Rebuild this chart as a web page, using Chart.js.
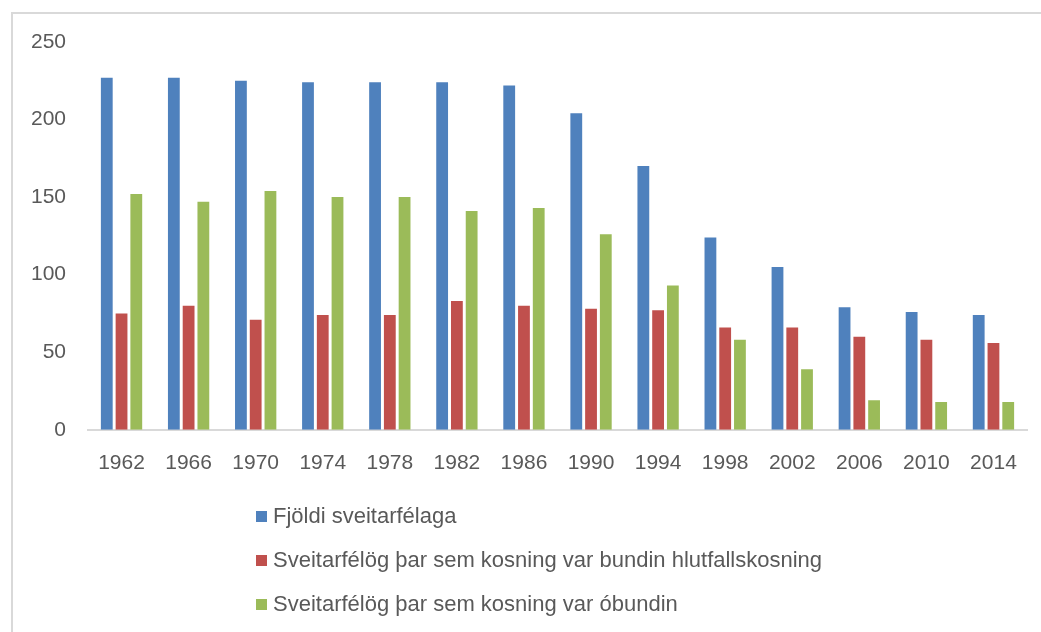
<!DOCTYPE html>
<html>
<head>
<meta charset="utf-8">
<script src="https://cdn.jsdelivr.net/npm/chart.js@4.4.1/dist/chart.umd.min.js"></script>
<style>
    html, body { margin: 0; padding: 0; background: #fff; overflow: hidden; }
    #wrap { position: relative; width: 1041px; height: 632px; }
    #frame {
        position: absolute; left: 11px; top: 12px; width: 1060px; height: 660px;
        border: 2px solid #d9d9d9; box-sizing: border-box;
    }
    #chart { position: absolute; left: 0; top: 0; }
    #legend {
        position: absolute; left: 256px; top: 503px;
        font-family: "Liberation Sans", Arial, sans-serif; font-size: 22px; color: #595959;
    }
    #legend .item { height: 44px; display: flex; align-items: flex-start; line-height: 26px; }
    #legend .box { width: 11px; height: 11px; margin: 8px 6px 0 0; flex: none; }
</style>
</head>
<body>
<div id="wrap">
    <div id="frame"></div>
    <canvas id="chart" width="1041" height="632"></canvas>
    <div id="legend"></div>
</div>
<script>
////////////////////////////////////////////////////////////////////////
// Data
const years = ["1962", "1966", "1970", "1974", "1978", "1982", "1986",
               "1990", "1994", "1998", "2002", "2006", "2010", "2014"]
const municipalities = [227, 227, 225, 224, 224, 224, 222, 204, 170, 124, 105, 79, 76, 74]
const proportional = [75, 80, 71, 74, 74, 83, 80, 78, 77, 66, 66, 60, 58, 56]
const unbound = [152, 147, 154, 150, 150, 141, 143, 126, 93, 58, 39, 19, 18, 18]
const seriesNames = [
    "Fjöldi sveitarfélaga",
    "Sveitarfélög þar sem kosning var bundin hlutfallskosning",
    "Sveitarfélög þar sem kosning var óbundin"
]
const seriesColors = ["#4f81bd", "#c0504d", "#9bbb59"]
const yTicks = [0, 50, 100, 150, 200, 250]

////////////////////////////////////////////////////////////////////////
// Chart
const textColor = "#595959"
const tickFont = { family: "'Liberation Sans', Arial, sans-serif", size: 21 }

function dataset(i, values) {
    return {
        label: seriesNames[i],
        data: values,
        backgroundColor: seriesColors[i],
        borderWidth: 0,
        categoryPercentage: 0.66,
        barPercentage: 0.8
    }
}

const chart = new Chart(document.getElementById("chart"), {
    type: "bar",
    data: {
        labels: years,
        datasets: [
            dataset(0, municipalities),
            dataset(1, proportional),
            dataset(2, unbound)
        ]
    },
    options: {
        responsive: false,
        animation: false,
        layout: {
            padding: { left: 0, right: 14, top: 42, bottom: 135 }
        },
        plugins: {
            legend: { display: false },
            tooltip: { enabled: false }
        },
        scales: {
            x: {
                grid: { display: false, drawTicks: false },
                border: { display: true, color: "#d9d9d9", width: 2 },
                ticks: { color: textColor, font: tickFont, padding: 21, maxRotation: 0 }
            },
            y: {
                min: 0,
                max: 250,
                afterBuildTicks: axis => { axis.ticks = yTicks.map(v => ({ value: v })) },
                afterFit: axis => { axis.width = 88 },
                grid: { display: false, drawTicks: false },
                border: { display: false },
                ticks: { color: textColor, font: tickFont, padding: 22 }
            }
        }
    }
})

////////////////////////////////////////////////////////////////////////
// Legend (stacked, below the chart)
const legend = document.getElementById("legend")
chart.data.datasets.forEach(ds => {
    const item = document.createElement("div")
    item.className = "item"
    const box = document.createElement("span")
    box.className = "box"
    box.style.background = ds.backgroundColor
    const label = document.createElement("span")
    label.textContent = ds.label
    item.appendChild(box)
    item.appendChild(label)
    legend.appendChild(item)
})
</script>
</body>
</html>
